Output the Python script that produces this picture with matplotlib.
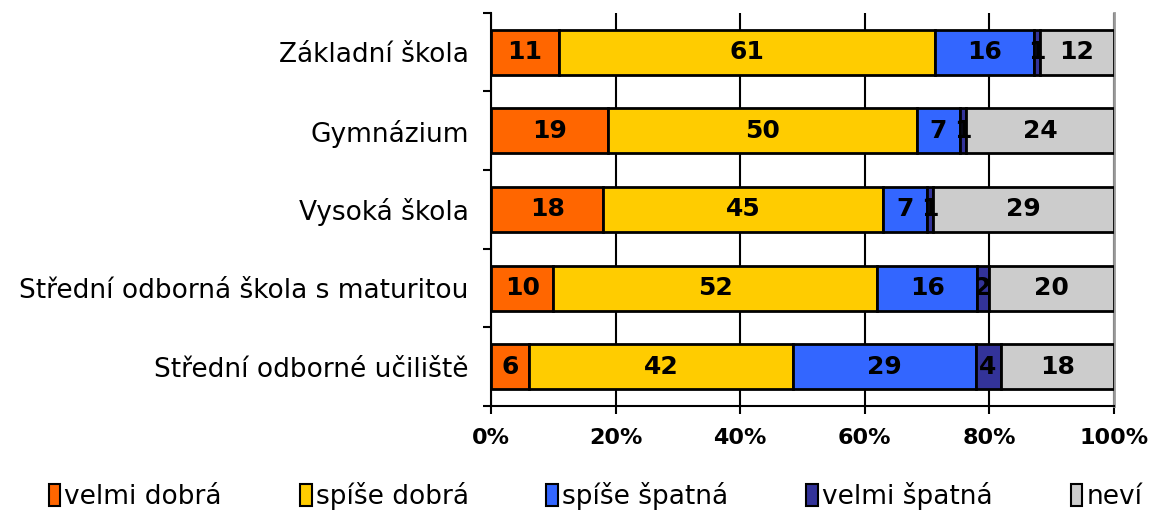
import matplotlib
matplotlib.use("Agg")
import matplotlib.pyplot as plt
import numpy as np

categories = ["Základní škola", "Gymnázium", "Vysoká škola",
              "Střední odborná škola s maturitou", "Střední odborné učiliště"]
series = ["velmi dobrá", "spíše dobrá", "spíše špatná", "velmi špatná", "neví"]
velmi_dobra = [11, 19, 18, 10, 6]
spise_dobra = [61, 50, 45, 52, 42]
spise_spatna = [16, 7, 7, 16, 29]
velmi_spatna = [1, 1, 1, 2, 4]
nevi = [12, 24, 29, 20, 18]
colors = ["#FF6600", "#FFCC00", "#3366FF", "#333399", "#CCCCCC"]

data = np.array([velmi_dobra, spise_dobra, spise_spatna, velmi_spatna, nevi], dtype=float)
pct = data / data.sum(axis=0) * 100

fig = plt.figure(figsize=(11.54, 5.14), dpi=100)
ax = fig.add_axes([0.4255, 0.210, 0.5398, 0.765])

y = np.arange(len(categories))[::-1]
left = np.zeros(len(categories))
for k, name in enumerate(series):
    ax.barh(y, pct[k], left=left, height=0.57, color=colors[k],
            edgecolor="black", linewidth=2, label=name, zorder=3)
    for i in range(len(categories)):
        ax.text(left[i] + pct[k][i] / 2, y[i], f"{int(data[k][i])}",
                ha="center", va="center", fontsize=18, fontweight="bold", zorder=4)
    left += pct[k]

ax.set_xlim(0, 100)
ax.set_ylim(-0.5, len(categories) - 0.5)
ax.set_xticks(np.arange(0, 101, 20))
ax.set_xticklabels([f"{v}%" for v in range(0, 101, 20)], fontsize=16, fontweight="bold")
ax.set_yticks(y)
ax.set_yticklabels(categories, fontsize=19)
ax.set_yticks(np.arange(-0.5, len(categories), 1), minor=True)
ax.tick_params(axis="y", which="major", length=0, pad=16)
ax.tick_params(axis="y", which="minor", length=6, width=1.5)
ax.tick_params(axis="x", length=6, width=1.5, pad=10)
ax.xaxis.grid(True, color="black", linewidth=1.5, zorder=0)
for s in ["left", "bottom"]:
    ax.spines[s].set_linewidth(1.5)
ax.spines["top"].set_visible(False)
ax.spines["right"].set_color("#999999")
ax.spines["right"].set_linewidth(2)

handles, labels = ax.get_legend_handles_labels()
leg = fig.legend(handles, labels, loc="center", bbox_to_anchor=(0.516, 0.035), ncol=5,
                 frameon=False, fontsize=19, handlelength=0.45, handleheight=0.9,
                 handletextpad=0.15, columnspacing=2.95)
for p in leg.get_patches():
    p.set_linewidth(1.5)

fig.savefig("out.png", dpi=100)
